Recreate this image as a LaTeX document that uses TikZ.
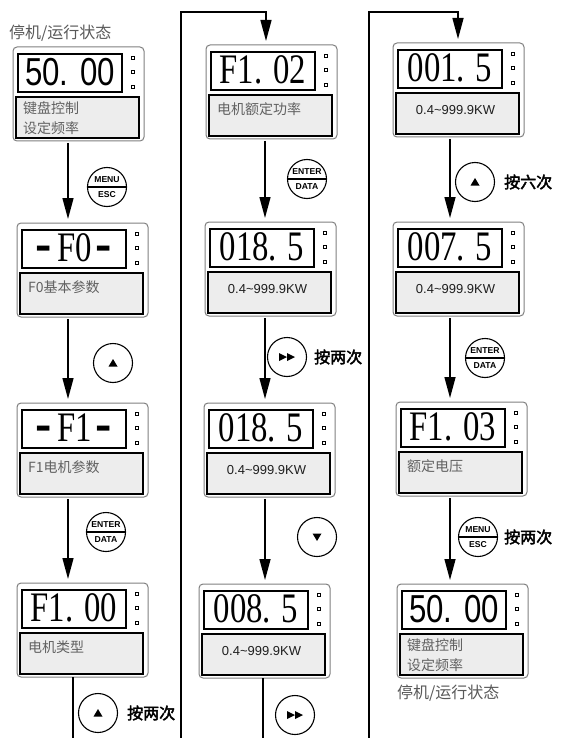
\documentclass[tikz,border=0pt]{standalone}
\usepackage{fontspec}
\usepackage{graphicx}
\setmainfont{Liberation Serif}
\newfontfamily\cjk{Noto Sans CJK SC}
\newfontfamily\cjkb[FakeBold=2.5]{Noto Sans CJK SC}
\newfontfamily\arial{Liberation Sans}
\newfontfamily\tnr{Liberation Serif}
\usetikzlibrary{arrows.meta,calc}

\newcommand\dserif[1]{\scalebox{0.78}[1]{\tnr\fontsize{42pt}{42pt}\selectfont #1}}
\newcommand\dsans[1]{\scalebox{0.8}[1]{\arial\fontsize{39pt}{39pt}\selectfont #1}}
\newcommand\ddash{\raisebox{2.5pt}{\scalebox{1.5}[1]{\arial\bfseries -}}}

\tikzset{
  panelframe/.style={draw=black!50, line width=1pt, rounded corners=4pt, fill=white,
    minimum width=131pt, minimum height=94pt, inner sep=0pt, outer sep=0pt},
  dispbox/.style={draw=black, line width=2.2pt, fill=white,
    minimum width=104pt, minimum height=38pt, inner sep=0pt, outer sep=0pt},
  infobox/.style={draw=black, line width=1.6pt, fill=black!7,
    minimum width=123pt, minimum height=41pt, inner sep=0pt, outer sep=0pt},
  dotbox/.style={draw=black, line width=0.9pt, fill=white, minimum size=3.6pt, inner sep=0pt},
  disptext/.style={inner sep=0pt},
  infotext/.style={font={\fontsize{14pt}{16pt}\selectfont\cjk}, text=black!62, inner sep=0pt},
  kwtext/.style={font={\fontsize{13pt}{15pt}\selectfont\arial}, text=black!88, inner sep=0pt},
  conn/.style={line width=1.4pt, shorten <=2pt, shorten >=4pt,
    -{Triangle[length=21pt,width=11pt]}},
  plainline/.style={line width=1.4pt},
  btn/.style={circle, draw=black, line width=1.1pt, fill=white, minimum size=39pt, inner sep=0pt},
  btntext/.style={font={\fontsize{8.6pt}{9pt}\selectfont\arial\bfseries}, inner sep=0pt},
  presstext/.style={font={\fontsize{16pt}{16pt}\selectfont\cjkb}, inner sep=0pt, anchor=west},
  statustext/.style={font={\fontsize{16pt}{16pt}\selectfont\cjk}, text=black!65, inner sep=0pt, anchor=west},
}

\newcommand\mypanel[4]{%
  \node[panelframe, anchor=north west] (#1) at (#2,#3) {};
  \node[dispbox, anchor=north west] (#1d) at ($(#1.north west)+(5,7)$) {};
  \node[infobox, anchor=north west] (#1i) at ($(#1.north west)+(3,50)$) {};
  \node[dotbox] (#1a) at ($(#1.north west)+(120,11)$) {};
  \node[dotbox] (#1b) at ($(#1.north west)+(120,25)$) {};
  \node[dotbox] (#1c) at ($(#1.north west)+(120,40)$) {};
  \node[disptext] (#1t) at ($(#1d.center)+(0,-1)$) {#4};
}
\newcommand\infotwo[3]{%
  \node[infotext, anchor=west] (#1la) at ($(#1i.north west)+(7,11)$) {#2};
  \node[infotext, anchor=west] (#1lb) at ($(#1i.north west)+(7,31)$) {#3};
}
\newcommand\infoone[2]{%
  \node[infotext, anchor=west] (#1la) at ($(#1i.north west)+(8,14)$) {#2};
}
\newcommand\infokw[1]{%
  \node[kwtext] (#1la) at ($(#1i.center)+(-2,-3)$) {0.4\textasciitilde 999.9KW};
}
\newcommand\splitbtn[5]{%
  \node[btn] (#1) at (#2,#3) {};
  \draw[line width=1.1pt] (#1.west) -- (#1.east);
  \node[btntext] (#1u) at ($(#1.center)+(0,-7)$) {#4};
  \node[btntext] (#1v) at ($(#1.center)+(0,7.5)$) {#5};
}
\newcommand\upbtn[3]{%
  \node[btn] (#1) at (#2,#3) {};
  \fill[shift={(#1.center)}] (0,-4) -- (4.5,3.5) -- (-4.5,3.5) -- cycle;
}
\newcommand\downbtn[3]{%
  \node[btn] (#1) at (#2,#3) {};
  \fill[shift={(#1.center)}] (0,4) -- (4.5,-3.5) -- (-4.5,-3.5) -- cycle;
}
\newcommand\rightbtn[3]{%
  \node[btn] (#1) at (#2,#3) {};
  \fill[shift={(#1.center)}] (-8,-4) -- (0,0) -- (-8,4) -- cycle;
  \fill[shift={(#1.center)}] (0,-4) -- (8,0) -- (0,4) -- cycle;
}

\begin{document}
\begin{tikzpicture}[x=1pt,y=-1pt]
\useasboundingbox (0,0) rectangle (560,738);
\fill[white] (0,0) rectangle (560,738);

% status labels
\node[statustext] (st1) at (9,33) {停机/运行状态};
\node[statustext] (st2) at (397,693) {停机/运行状态};

% column 1
\mypanel{p11}{13}{47}{\dsans{50. 00}}
\infotwo{p11}{键盘控制}{设定频率}
\mypanel{p12}{17}{223}{\dserif{\ddash\hspace{7pt}F0\hspace{5pt}\ddash}}
\infoone{p12}{F0基本参数}
\mypanel{p13}{17}{403}{\dserif{\ddash\hspace{7pt}F1\hspace{5pt}\ddash}}
\infoone{p13}{F1电机参数}
\mypanel{p14}{17}{583}{\dserif{F1. 00}}
\infoone{p14}{电机类型}

% column 2
\mypanel{p21}{206}{45}{\dserif{F1. 02}}
\infoone{p21}{电机额定功率}
\mypanel{p22}{205}{222}{\dserif{018. 5}}
\infokw{p22}
\mypanel{p23}{204}{403}{\dserif{018. 5}}
\infokw{p23}
\mypanel{p24}{199}{584}{\dserif{008. 5}}
\infokw{p24}

% column 3
\mypanel{p31}{393}{43}{\dserif{001. 5}}
\infokw{p31}
\mypanel{p32}{393}{222}{\dserif{007. 5}}
\infokw{p32}
\mypanel{p33}{396}{402}{\dserif{F1. 03}}
\infoone{p33}{额定电压}
\mypanel{p34}{397}{584}{\dsans{50. 00}}
\infotwo{p34}{键盘控制}{设定频率}

% connector coordinates
\coordinate (x1) at (68,0);
\coordinate (x2) at (265,0);
\coordinate (x3) at (450,0);
\coordinate (e1) at (73,739);
\coordinate (e2) at (263,739);
\coordinate (v1b) at (181,739);
\coordinate (v1t) at (181,12);
\coordinate (h1) at (266,12);
\coordinate (v2b) at (369,739);
\coordinate (v2t) at (369,12);
\coordinate (h2) at (458,12);

% column 1 connectors
\draw[conn] (p11.south -| x1) -- (p12.north -| x1);
\draw[conn] (p12.south -| x1) -- (p13.north -| x1);
\draw[conn] (p13.south -| x1) -- (p14.north -| x1);
\draw[plainline] (p14.south -| e1) -- (e1);

% link to column 2
\draw[conn, shorten <=0pt, line join=miter] (v1b) -- (v1t) -- (h1) -- (p21.north -| h1);
\draw[conn] (p21.south -| x2) -- (p22.north -| x2);
\draw[conn] (p22.south -| x2) -- (p23.north -| x2);
\draw[conn] (p23.south -| x2) -- (p24.north -| x2);
\draw[plainline] (p24.south -| e2) -- (e2);

% link to column 3
\draw[conn, shorten <=0pt, line join=miter] (v2b) -- (v2t) -- (h2) -- (p31.north -| h2);
\draw[conn] (p31.south -| x3) -- (p32.north -| x3);
\draw[conn] (p32.south -| x3) -- (p33.north -| x3);
\draw[conn] (p33.south -| x3) -- (p34.north -| x3);

% buttons column 1
\splitbtn{b11}{107}{187}{MENU}{ESC}
\upbtn{b12}{113}{363}
\splitbtn{b13}{106}{532}{ENTER}{DATA}
\upbtn{b14}{98}{713}
\node[presstext] (t14) at (127,713) {按两次};

% buttons column 2
\splitbtn{b21}{307}{179}{ENTER}{DATA}
\rightbtn{b22}{287}{357}
\node[presstext] (t22) at (314,357) {按两次};
\downbtn{b23}{317}{537}
\rightbtn{b24}{295}{715}

% buttons column 3
\upbtn{b31}{475}{182}
\node[presstext] (t31) at (504,182) {按六次};
\splitbtn{b32}{485}{358}{ENTER}{DATA}
\splitbtn{b33}{478}{537}{MENU}{ESC}
\node[presstext] (t33) at (504,537) {按两次};
\end{tikzpicture}
\end{document}
